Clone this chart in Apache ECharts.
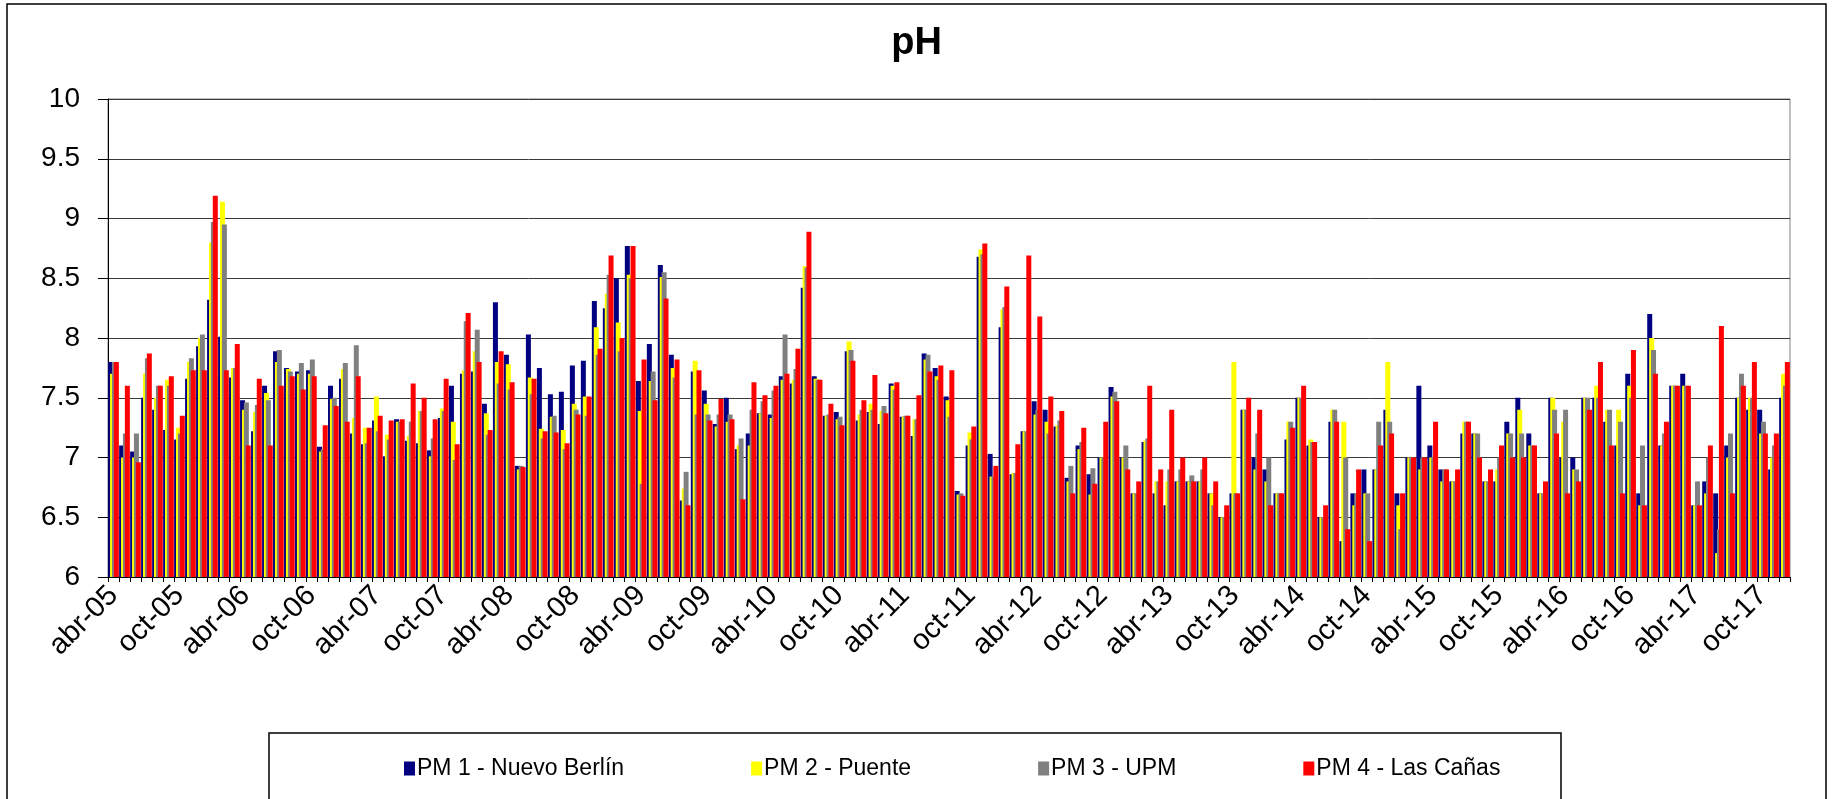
<!DOCTYPE html>
<html>
<head>
<meta charset="utf-8">
<script src="https://cdn.jsdelivr.net/npm/echarts@6/dist/echarts.min.js"></script>
<style>
html,body{margin:0;padding:0;background:#fff;}
#chart{width:1833px;height:799px;}
</style>
</head>
<body>
<div id="chart"></div>
<script>
// Category labels: monthly, abr-05 .. dic-17
const monthNames = ['ene','feb','mar','abr','may','jun','jul','ago','sep','oct','nov','dic'];
const startYear = 2005, startMonth = 3, monthCount = 153;
const categories = [];
for (let k = 0; k < monthCount; k++) {
  const m = (startMonth + k) % 12;
  const y = startYear + Math.floor((startMonth + k) / 12);
  categories.push(monthNames[m] + '-' + String(y % 100).padStart(2, '0'));
}

const seriesNames = ['PM 1 - Nuevo Berlín', 'PM 2 - Puente', 'PM 3 - UPM', 'PM 4 - Las Cañas'];

const pm1 = [7.8,7.1,7.05,7.5,7.4,7.23,7.15,7.66,7.93,8.32,8.01,7.67,7.48,7.22,7.6,7.89,7.75,7.72,7.73,7.09,
7.6,7.66,7.2,7.11,7.31,7.01,7.32,7.14,7.12,7.06,7.33,7.6,7.7,7.72,7.45,8.3,7.86,6.93,8.03,7.75,
7.53,7.55,7.77,7.81,8.31,8.25,8.5,8.77,7.64,7.95,8.61,7.86,6.64,7.72,7.56,7.28,7.5,7.07,7.2,7.37,
7.36,7.68,7.62,8.42,7.68,7.35,7.38,7.89,7.31,7.38,7.28,7.62,7.34,7.18,7.87,7.75,7.51,6.72,7.1,8.68,
7.03,8.09,6.86,7.22,7.47,7.4,7.26,6.83,7.1,6.86,7.0,7.59,7.0,6.7,7.13,6.7,6.6,6.8,6.8,6.8,
6.7,6.5,6.7,7.4,7.0,6.9,6.7,7.15,7.5,7.1,6.5,7.3,6.3,6.7,6.9,6.9,7.4,6.7,7.0,7.6,
7.1,6.9,6.8,7.2,7.2,6.8,6.8,7.3,7.5,7.2,6.7,7.5,7.0,7.0,7.5,7.5,7.3,7.1,7.7,6.7,
8.2,7.1,7.6,7.7,6.6,6.8,6.7,7.1,7.5,7.4,7.4,6.9,7.5];

const pm2 = [7.7,7.0,7.0,7.7,7.5,7.65,7.25,7.8,8.0,8.8,9.14,7.75,7.4,7.38,7.54,7.8,7.74,7.7,7.7,7.05,
7.49,7.74,7.33,7.25,7.51,7.19,7.3,7.18,7.39,7.01,7.41,7.3,7.73,7.89,7.37,7.8,7.78,6.9,7.67,7.24,
7.34,7.23,7.45,7.51,8.09,8.37,8.13,8.53,7.39,7.64,8.51,7.75,6.74,7.81,7.45,7.26,7.3,7.1,7.1,7.37,
7.33,7.65,7.65,8.6,7.66,7.35,7.32,7.97,7.36,7.45,7.39,7.6,7.34,7.32,7.82,7.68,7.48,6.69,7.21,8.74,
6.84,8.24,6.87,7.22,7.36,7.3,7.27,6.8,7.07,6.69,7.0,7.51,7.0,6.7,7.14,6.8,6.8,6.8,6.8,6.8,
6.7,6.5,7.8,7.4,6.9,6.8,6.7,7.3,7.5,7.15,6.5,7.4,7.3,6.6,6.7,6.9,7.8,6.6,7.0,6.9,
7.0,6.8,6.8,7.3,7.2,6.8,6.9,7.2,7.4,7.1,6.7,7.5,7.3,6.9,7.5,7.6,7.4,7.4,7.6,6.6,
8.0,7.1,7.6,7.6,6.6,6.7,6.2,7.0,7.5,7.5,7.2,7.0,7.7];

const pm3 = [7.8,7.2,7.2,7.83,7.6,7.6,7.2,7.83,8.03,8.97,8.95,7.75,7.46,7.44,7.48,7.9,7.72,7.79,7.82,7.07,
7.5,7.79,7.94,7.12,7.22,7.15,7.3,7.3,7.39,7.16,7.39,6.98,8.14,8.07,7.19,7.62,7.57,6.93,7.53,7.16,
7.35,7.07,7.4,7.35,7.86,8.53,7.89,8.5,6.78,7.72,8.55,7.67,6.88,7.36,7.36,7.36,7.36,7.16,7.4,7.47,
7.56,8.03,7.74,8.59,7.65,7.36,7.34,7.9,7.4,7.4,7.43,7.57,7.35,7.32,7.86,7.65,7.34,6.7,7.15,8.7,
6.84,8.26,6.87,7.22,7.4,7.2,7.31,6.93,7.13,6.91,7.0,7.55,7.1,6.7,7.16,6.8,6.9,6.9,6.85,6.9,
6.6,6.5,6.7,7.4,7.2,7.0,6.7,7.3,7.5,7.13,6.5,7.4,7.0,6.7,6.7,7.3,7.3,6.4,7.0,7.0,
7.0,6.9,6.8,7.3,7.2,6.8,7.0,7.2,7.2,7.1,6.7,7.4,7.4,6.9,7.5,7.5,7.4,7.3,7.5,7.1,
7.9,7.2,7.6,7.6,6.8,7.0,6.4,7.2,7.7,7.5,7.3,7.1,7.6];

const pm4 = [7.8,7.6,6.96,7.87,7.6,7.68,7.35,7.73,7.73,9.19,7.73,7.95,7.1,7.66,7.1,7.6,7.68,7.57,7.68,7.27,
7.43,7.3,7.68,7.25,7.35,7.31,7.32,7.62,7.5,7.32,7.66,7.11,8.21,7.8,7.23,7.89,7.63,6.92,7.66,7.22,
7.21,7.12,7.36,7.51,7.91,8.69,8.0,8.77,7.82,7.48,8.33,7.82,6.6,7.73,7.31,7.49,7.32,6.65,7.63,7.52,
7.6,7.7,7.91,8.89,7.65,7.45,7.27,7.81,7.48,7.69,7.37,7.63,7.35,7.52,7.72,7.77,7.73,6.68,7.26,8.79,
6.93,8.43,7.11,8.69,8.18,7.51,7.39,6.7,7.25,6.78,7.3,7.47,6.9,6.8,7.6,6.9,7.4,7.0,6.8,7.0,
6.8,6.6,6.7,7.5,7.4,6.6,6.7,7.25,7.6,7.13,6.6,7.3,6.4,6.9,6.3,7.1,7.2,6.7,7.0,7.0,
7.3,6.9,6.9,7.3,7.0,6.9,7.1,7.0,7.0,7.1,6.8,7.2,6.7,6.8,7.4,7.8,7.1,6.7,7.9,6.6,
7.7,7.3,7.6,7.6,6.6,7.1,8.1,6.7,7.6,7.8,7.2,7.2,7.8];

const seriesData = [pm1, pm2, pm3, pm4];
const seriesColors = ['#000080', '#FFFF00', '#808080', '#FF0000'];
const yTickValues = ['6','6.5','7','7.5','8','8.5','9','9.5','10'];

const FONT = '"Liberation Sans", Arial, sans-serif';
const chart = echarts.init(document.getElementById('chart'), null, {renderer: 'canvas'});

chart.setOption({
  backgroundColor: '#ffffff',
  animation: false,
  title: {
    text: 'pH', left: 'center', top: 20,
    textStyle: {fontFamily: FONT, fontWeight: 'bold', fontSize: 38, color: '#000'}
  },
  graphic: [
    {type: 'rect', shape: {x: 7, y: 4, width: 1819, height: 830},
     style: {fill: 'none', stroke: '#000', lineWidth: 1.5}, silent: true, z: -1},
    {type: 'rect', shape: {x: 269, y: 733, width: 1292, height: 90},
     style: {fill: 'none', stroke: '#000', lineWidth: 1.5}, silent: true, z: -1}
  ],
  legend: {
    left: 399, top: 752,
    itemWidth: 11, itemHeight: 14, itemGap: 127,
    icon: 'rect',
    textStyle: {fontFamily: FONT, fontSize: 23, color: '#000', padding: [0, 0, 0, -3]},
    data: seriesNames
  },
  grid: {
    left: 108, top: 99, width: 1682, height: 478,
    show: true, borderColor: '#808080', borderWidth: 1, backgroundColor: 'transparent'
  },
  xAxis: {
    type: 'category',
    data: categories,
    boundaryGap: true,
    axisLine: {lineStyle: {color: '#000', width: 1}},
    axisTick: {show: true, interval: 0, length: 5, lineStyle: {color: '#000'}},
    axisLabel: {
      interval: 5, rotate: 45, margin: 14,
      fontFamily: FONT, fontSize: 29, color: '#000'
    }
  },
  yAxis: {
    type: 'value', min: 6, max: 10, interval: 0.5,
    axisLine: {show: true, lineStyle: {color: '#000', width: 1}},
    axisTick: {show: true, length: 10, lineStyle: {color: '#000'}},
    axisLabel: {
      margin: 28, fontFamily: FONT, fontSize: 28, color: '#000',
      formatter: function (v) { return yTickValues[Math.round((v - 6) / 0.5)]; }
    },
    splitLine: {show: true, lineStyle: {color: '#3a3a3a', width: 1}}
  },
  series: seriesNames.map(function (name, k) {
    return {
      name: name, type: 'bar',
      data: seriesData[k],
      barWidth: 5, barGap: '-62%',
      itemStyle: {color: seriesColors[k]},
      emphasis: {disabled: true}
    };
  })
});
</script>
</body>
</html>
